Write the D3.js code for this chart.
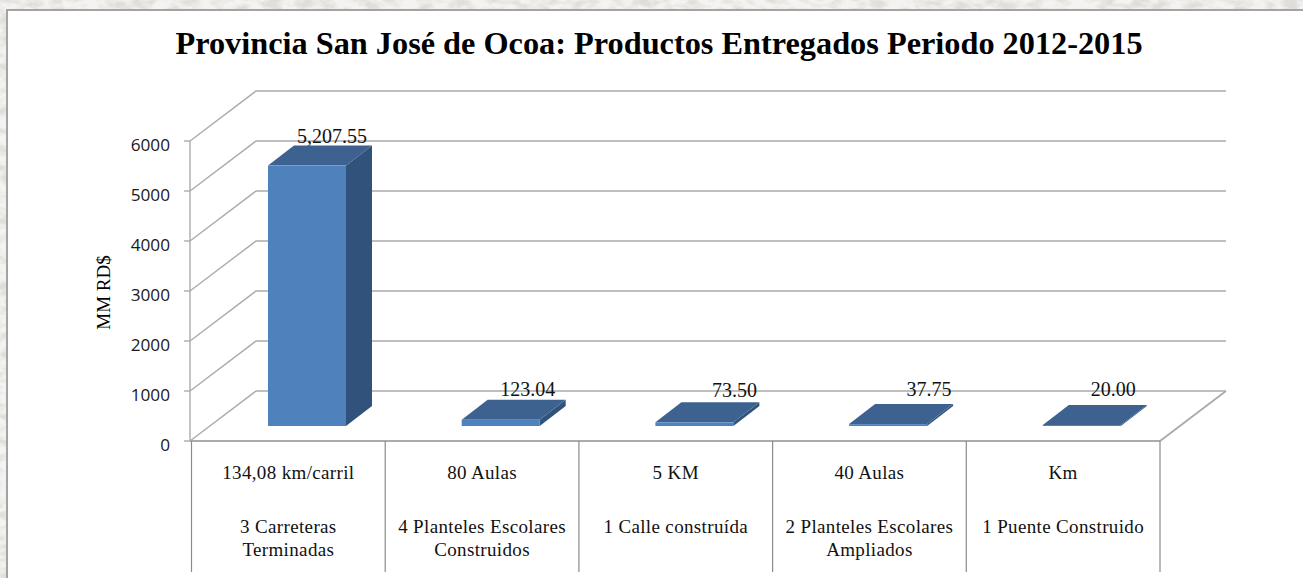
<!DOCTYPE html>
<html><head><meta charset="utf-8">
<script src="https://cdn.jsdelivr.net/npm/d3@7/dist/d3.min.js"></script>
<style>html,body{margin:0;padding:0;background:#fff;overflow:hidden}svg{display:block}</style>
</head><body><svg id="c" width="1303" height="578"></svg>
<script>
const titleText = "Provincia San José de Ocoa: Productos Entregados Periodo 2012-2015";
const yTitle = "MM RD$";
const categories = ["a","b","c","d","e"];
const values = [5207.55, 123.04, 73.50, 37.75, 20.00];
const valueLabels = ["5,207.55","123.04","73.50","37.75","20.00"];
const units = ["134,08 km/carril","80 Aulas","5 KM","40 Aulas","Km"];
const products = [["3 Carreteras","Terminadas"],["4 Planteles Escolares","Construidos"],["1 Calle construída"],["2 Planteles Escolares","Ampliados"],["1 Puente Construido"]];
const yTicks = [0,1000,2000,3000,4000,5000,6000];

const svg = d3.select("#c");
const serif = "'Liberation Serif',serif";
const y = d3.scaleLinear().domain([0,6000]).range([441,141]);
const x = d3.scaleBand().domain(categories).range([191.5,1160]);
const dx = 66, dy = -50;        // wall depth
const bdx = 26, bdy = -20;      // bar depth
const floorIn = 15;             // bar front above chart front edge
const barW = 78;
const gridC = "#ababab";
const labelShift = i => [64,66,79,80,70.5][i];   // label placement as drawn by the original

// textured surround
const defs = svg.append("defs");
const f = defs.append("filter").attr("id","tex").attr("x",0).attr("y",0).attr("width","100%").attr("height","100%");
f.append("feTurbulence").attr("type","fractalNoise").attr("baseFrequency","0.06 0.11").attr("numOctaves",3).attr("seed",7);
f.append("feColorMatrix").attr("type","matrix").attr("values","0 0 0 0 0.74  0 0 0 0 0.73  0 0 0 0 0.70  3.2 0 0 0 -1.3");
svg.append("rect").attr("width",1303).attr("height",578).attr("fill","#f4f3f1");
svg.append("rect").attr("width",1303).attr("height",578).attr("filter","url(#tex)");
// panel
svg.append("rect").attr("x",6).attr("y",9).attr("width",1297).attr("height",569).attr("fill","#a3a3a3");
svg.append("rect").attr("x",8).attr("y",11).attr("width",1295).attr("height",567).attr("fill","#fff");

svg.append("text").attr("x",659).attr("y",54).attr("text-anchor","middle")
  .attr("font-family",serif).attr("font-weight","bold").attr("font-size",32.3).attr("fill","#000").text(titleText);

const x0 = x.range()[0]-1.5, x1 = x.range()[1];
const grid = svg.append("g").attr("fill","none").attr("stroke",gridC).attr("stroke-width",1.4);
yTicks.forEach(t=>{
  grid.append("path").attr("d",`M${x0},${y(t)}L${x0+dx},${y(t)+dy}L${x1+dx},${y(t)+dy}`);
  grid.append("line").attr("x1",x0-6).attr("x2",x0).attr("y1",y(t)).attr("y2",y(t));
  svg.append("text").attr("x",170).attr("y",y(t)+9.5).attr("text-anchor","end")
    .attr("font-family","'Open Sans',sans-serif").attr("font-size",17.2).attr("fill","#1a1a1a").text(t);
});
// axis, floor
grid.append("line").attr("x1",x0).attr("x2",x0).attr("y1",y(6000)).attr("y2",y(0));
grid.append("path").attr("d",`M${x0},${y(0)}L${x1},${y(0)}L${x1+dx},${y(0)+dy}`).attr("stroke-width",1.8);
// category cell dividers
const ticksX = categories.map(c=>x(c)).concat([x.range()[1]]);
ticksX.forEach(t=>grid.append("line").attr("x1",t).attr("x2",t).attr("y1",y(0)).attr("y2",572).attr("stroke","#8c8c8c").attr("stroke-width",1.2));

svg.append("text").attr("transform","translate(110,292.5) rotate(-90)").attr("text-anchor","middle")
  .attr("font-family",serif).attr("font-size",19).attr("fill","#000").text(yTitle);

// bars
const bars = svg.append("g");
categories.forEach((c,i)=>{
  const bx = x(c)+76.5, by = y(0)-floorIn, h = y(0)-y(values[i]);
  const top = by-h, r = bx+barW;
  bars.append("path").attr("fill","#31527a").attr("d",`M${r},${by}L${r+bdx},${by+bdy}L${r+bdx},${top+bdy}L${r},${top}Z`);
  bars.append("path").attr("fill","#3d6290").attr("d",`M${bx},${top}L${bx+bdx},${top+bdy}L${r+bdx},${top+bdy}L${r},${top}Z`);
  bars.append("rect").attr("x",bx).attr("y",top).attr("width",barW).attr("height",Math.max(h,0.8)).attr("fill","#4f81bd");
  svg.append("text").attr("x",bx+labelShift(i)).attr("y",i==0?143:i==2?397:396).attr("text-anchor","middle")
    .attr("font-family",serif).attr("font-size",20).attr("fill","#111").text(valueLabels[i]);
  const cx = x(c)+x.bandwidth()/2;
  svg.append("text").attr("x",cx).attr("y",479).attr("text-anchor","middle").attr("letter-spacing",0.35)
    .attr("font-family",serif).attr("font-size",19).attr("fill","#111").text(units[i]);
  products[i].forEach((l,j)=>svg.append("text").attr("x",cx).attr("y",532.5+j*23.5).attr("text-anchor","middle").attr("letter-spacing",0.35)
    .attr("font-family",serif).attr("font-size",19).attr("fill","#111").text(l));
});
</script></body></html>
